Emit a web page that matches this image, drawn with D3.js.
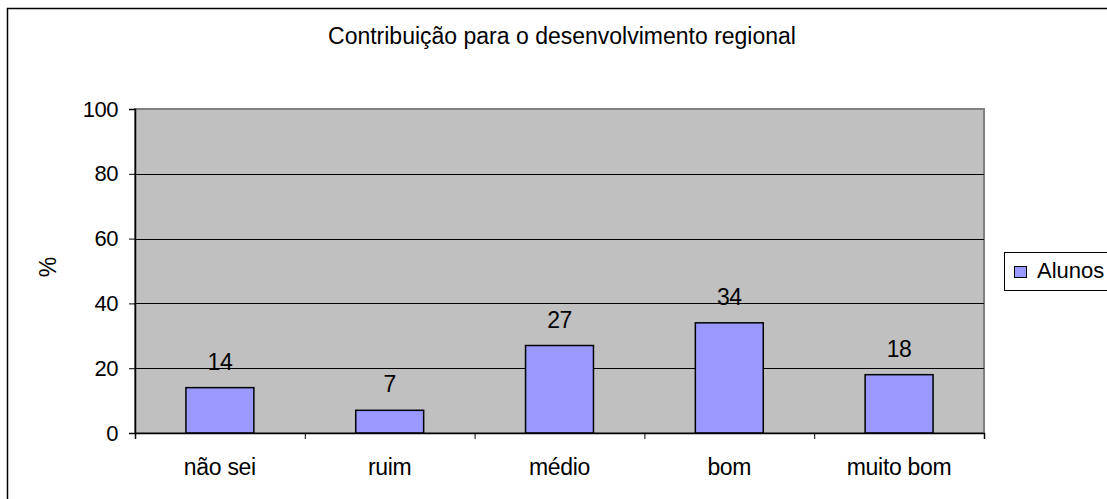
<!DOCTYPE html>
<html>
<head>
<meta charset="utf-8">
<script src="https://cdn.jsdelivr.net/npm/d3@7"></script>
<style>
  body { margin: 0; background: #fff; }
  text { font-family: "Liberation Sans", Arial, sans-serif; fill: #000; }
</style>
</head>
<body>
<svg id="chart" width="1107" height="499"></svg>
<script>
const categories = ['não sei', 'ruim', 'médio', 'bom', 'muito bom'];
const alunos = [14, 7, 27, 34, 18];
const yTicks = [0, 20, 40, 60, 80, 100];

const svg = d3.select('#chart'),
  width = +svg.attr('width'),
  height = +svg.attr('height');

// chart frame (cut off on the right and bottom, as in the picture)
svg.append('path')
  .attr('d', 'M7.5,' + height + ' V8.5 H' + width)
  .style('fill', 'none')
  .style('stroke', '#000')
  .attr('stroke-width', 1.5);

const plot = {left: 135, right: 984, top: 109, bottom: 433};

const x = d3.scaleBand()
  .domain(categories)
  .range([plot.left, plot.right])
  .paddingInner(0.6)
  .paddingOuter(0.3);

const y = d3.scaleLinear()
  .domain([0, 100])
  .range([plot.bottom, plot.top]);

// grey plot area
svg.append('rect')
  .attr('x', plot.left)
  .attr('y', plot.top)
  .attr('width', plot.right - plot.left)
  .attr('height', plot.bottom - plot.top)
  .style('fill', '#c0c0c0')
  .style('stroke', '#808080')
  .attr('stroke-width', 2);

// gridlines
svg.append('g')
  .selectAll('line')
  .data(yTicks.filter(d => d > 0 && d < 100))
  .join('line')
  .attr('x1', plot.left)
  .attr('x2', plot.right)
  .attr('y1', d => Math.round(y(d)) + 0.5)
  .attr('y2', d => Math.round(y(d)) + 0.5)
  .style('stroke', '#000')
  .attr('stroke-width', 1);

// bars
svg.append('g')
  .selectAll('rect')
  .data(alunos)
  .join('rect')
  .attr('x', (d, i) => x(categories[i]))
  .attr('y', d => y(d))
  .attr('width', x.bandwidth())
  .attr('height', d => plot.bottom - y(d))
  .style('fill', '#9999ff')
  .style('stroke', '#000')
  .attr('stroke-width', 1.5);

// value labels
svg.append('g')
  .selectAll('text')
  .data(alunos)
  .join('text')
  .attr('x', (d, i) => x(categories[i]) + x.bandwidth() / 2)
  .attr('y', d => y(d) - 18)
  .attr('text-anchor', 'middle')
  .style('font-size', '23px')
  .style('letter-spacing', '-0.5px')
  .text(d => d);

// y axis
const yAxis = svg.append('g')
  .attr('transform', 'translate(' + plot.left + ',0)')
  .call(d3.axisLeft(y).tickValues(yTicks).tickSize(6).tickPadding(11));
yAxis.select('.domain').attr('stroke', '#000').attr('stroke-width', 1.5);
yAxis.selectAll('.tick line').attr('stroke', '#000');
yAxis.selectAll('.tick text')
  .style('font-size', '22px')
  .style('letter-spacing', '-0.5px')
  .attr('font-family', null);

// x axis with ticks between categories
const xb = d3.scaleLinear().domain([0, categories.length]).range([plot.left, plot.right]);
const xAxis = svg.append('g')
  .attr('transform', 'translate(0,' + plot.bottom + ')')
  .call(d3.axisBottom(xb).ticks(categories.length).tickSize(6).tickFormat(''));
xAxis.select('.domain').attr('stroke', '#000').attr('stroke-width', 1.5);
xAxis.selectAll('.tick line').attr('stroke', '#000');

svg.append('g')
  .selectAll('text')
  .data(categories)
  .join('text')
  .attr('x', d => x(d) + x.bandwidth() / 2)
  .attr('y', 475)
  .attr('text-anchor', 'middle')
  .style('font-size', '23px')
  .style('letter-spacing', '-0.3px')
  .text(d => d);

// y axis title
svg.append('text')
  .attr('transform', 'translate(56,267) rotate(-90)')
  .attr('text-anchor', 'middle')
  .style('font-size', '23px')
  .text('%');

// chart title
svg.append('text')
  .attr('x', 562)
  .attr('y', 44)
  .attr('text-anchor', 'middle')
  .style('font-size', '23px')
  .text('Contribuição para o desenvolvimento regional');

// legend
const legend = svg.append('g');
legend.append('rect')
  .attr('x', 1004.5)
  .attr('y', 252.5)
  .attr('width', 120)
  .attr('height', 38)
  .style('fill', '#fff')
  .style('stroke', '#000')
  .attr('stroke-width', 1);
legend.append('rect')
  .attr('x', 1014.5)
  .attr('y', 266.5)
  .attr('width', 12)
  .attr('height', 11)
  .style('fill', '#9999ff')
  .style('stroke', '#000')
  .attr('stroke-width', 1);
legend.append('text')
  .attr('x', 1037)
  .attr('y', 278)
  .style('font-size', '22px')
  .text('Alunos');
</script>
</body>
</html>
